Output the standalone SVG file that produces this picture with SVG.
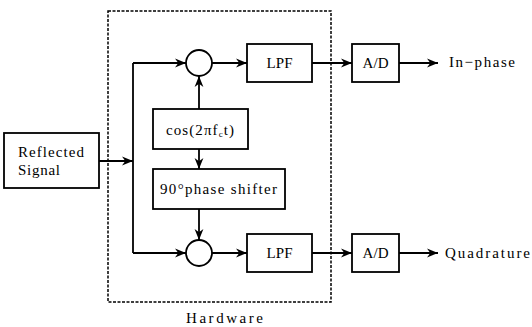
<svg xmlns="http://www.w3.org/2000/svg" width="532" height="327" viewBox="0 0 532 327">
  <style>
    .box { fill: #fff; stroke: #000; stroke-width: 1.8; }
    .mix { fill: #fff; stroke: #000; stroke-width: 1.8; }
    .hw { fill: none; stroke: #000; stroke-width: 1.5; stroke-dasharray: 3 1.5; }
    .wire { fill: none; stroke: #000; stroke-width: 1.8; }
    .arrow { marker-end: url(#head); }
    .c { text-anchor: middle; }
  </style>
  <defs>
    <marker id="head" viewBox="0 0 10 10" refX="10" refY="5" markerWidth="11" markerHeight="11" markerUnits="userSpaceOnUse" orient="auto">
      <path d="M0,1 L10,5 L0,9 L3,5 Z" fill="#000"/>
    </marker>
  </defs>

  <!-- connectors -->
  <g id="connectors">
    <path class="wire arrow" d="M99,161 H133"/>
    <path class="wire" d="M133,63 V253"/>
    <path class="wire arrow" d="M133,63 H186"/>
    <path class="wire arrow" d="M133,253 H186"/>
    <path class="wire arrow" d="M212,63 H247"/>
    <path class="wire arrow" d="M212,253 H247"/>
    <path class="wire arrow" d="M312,63 H352"/>
    <path class="wire arrow" d="M312,253 H352"/>
    <path class="wire arrow" d="M399,63 H438"/>
    <path class="wire arrow" d="M399,253 H438"/>
    <path class="wire arrow" d="M199,109 V76"/>
    <path class="wire arrow" d="M199,149 V169"/>
    <path class="wire arrow" d="M199,209 V240"/>
  </g>

  <g font-family="'Liberation Serif', 'Times New Roman', serif" font-size="15" fill="#000">
    <!-- hardware boundary -->
    <g id="hardware">
      <rect class="hw" x="108" y="11" width="223" height="291"/>
      <text class="c" x="224.5" y="323" textLength="77" lengthAdjust="spacing">Hardware</text>
    </g>

    <g id="reflected-signal">
      <rect class="box" x="4" y="133" width="95" height="55"/>
      <text x="18" y="157" textLength="66" lengthAdjust="spacing">Reflected</text>
      <text x="18" y="175" textLength="42" lengthAdjust="spacing">Signal</text>
    </g>

    <g id="mixer-i">
      <circle class="mix" cx="199" cy="63" r="13"/>
    </g>
    <g id="mixer-q">
      <circle class="mix" cx="199" cy="253" r="13"/>
    </g>

    <g id="oscillator">
      <rect class="box" x="153" y="109" width="95" height="40"/>
      <text class="c" x="200" y="135" textLength="68" lengthAdjust="spacing">cos(2πf<tspan font-size="9" dy="1.5">c</tspan><tspan dy="-1.5">t)</tspan></text>
    </g>

    <g id="phase-shifter">
      <rect class="box" x="153" y="169" width="132" height="40"/>
      <text x="160" y="194" textLength="117" lengthAdjust="spacing">90°phase shifter</text>
    </g>

    <g id="lpf-i">
      <rect class="box" x="247" y="44" width="65" height="38"/>
      <text class="c" x="279.5" y="68" textLength="26" lengthAdjust="spacing">LPF</text>
    </g>
    <g id="lpf-q">
      <rect class="box" x="247" y="234" width="65" height="38"/>
      <text class="c" x="279.5" y="258" textLength="26" lengthAdjust="spacing">LPF</text>
    </g>

    <g id="adc-i">
      <rect class="box" x="352" y="44" width="47" height="38"/>
      <text class="c" x="375.5" y="68" textLength="26" lengthAdjust="spacing">A/D</text>
    </g>
    <g id="adc-q">
      <rect class="box" x="352" y="234" width="47" height="38"/>
      <text class="c" x="375.5" y="258" textLength="26" lengthAdjust="spacing">A/D</text>
    </g>

    <g id="out-i">
      <text x="449" y="67" textLength="66" lengthAdjust="spacing">In−phase</text>
    </g>
    <g id="out-q">
      <text x="445" y="258" textLength="85" lengthAdjust="spacing">Quadrature</text>
    </g>
  </g>
</svg>
